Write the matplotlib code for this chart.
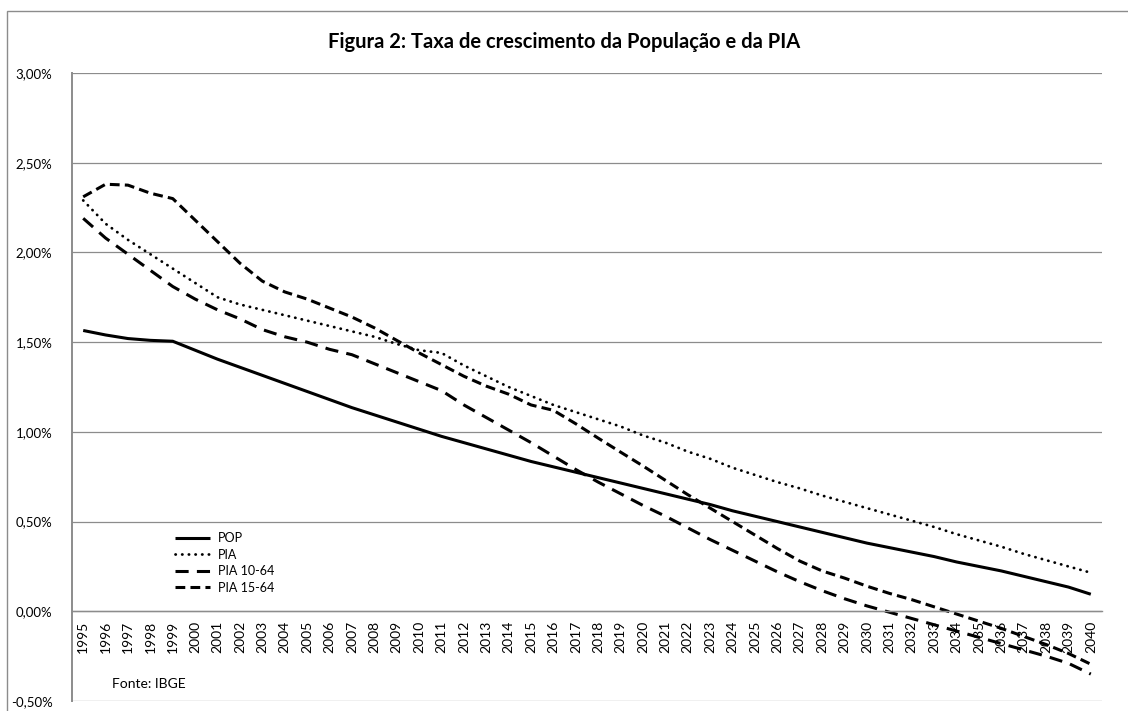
import matplotlib
matplotlib.use("Agg")
import matplotlib.pyplot as plt
from matplotlib.patches import Rectangle

plt.rcParams['font.family'] = ['Lato', 'DejaVu Sans']

# dataset (growth rates, %)
years = list(range(1995, 2041))
pop = [1.565, 1.54, 1.52, 1.51, 1.505, 1.455, 1.405, 1.36, 1.315, 1.27, 1.225,
       1.18, 1.135, 1.095, 1.055, 1.015, 0.975, 0.94, 0.905, 0.87, 0.835, 0.805,
       0.775, 0.745, 0.715, 0.685, 0.655, 0.625, 0.595, 0.56, 0.53, 0.50, 0.47,
       0.44, 0.41, 0.38, 0.355, 0.33, 0.305, 0.275, 0.25, 0.225, 0.195, 0.165,
       0.135, 0.095]
pia = [2.29, 2.16, 2.07, 1.99, 1.91, 1.83, 1.75, 1.71, 1.68, 1.65, 1.62, 1.59,
       1.56, 1.53, 1.49, 1.455, 1.44, 1.37, 1.31, 1.25, 1.20, 1.15, 1.11, 1.07,
       1.03, 0.98, 0.94, 0.89, 0.85, 0.80, 0.76, 0.72, 0.685, 0.645, 0.61, 0.575,
       0.54, 0.505, 0.47, 0.43, 0.395, 0.36, 0.32, 0.285, 0.25, 0.215]
pia_10_64 = [2.19, 2.08, 1.99, 1.90, 1.81, 1.74, 1.68, 1.63, 1.57, 1.53, 1.50,
             1.46, 1.43, 1.38, 1.33, 1.28, 1.23, 1.15, 1.08, 1.01, 0.94, 0.865,
             0.79, 0.72, 0.655, 0.59, 0.53, 0.465, 0.40, 0.34, 0.28, 0.22,
             0.165, 0.115, 0.07, 0.03, -0.005, -0.04, -0.075, -0.11, -0.145,
             -0.18, -0.215, -0.25, -0.29, -0.35]
pia_15_64 = [2.31, 2.38, 2.375, 2.33, 2.30, 2.18, 2.06, 1.94, 1.84, 1.78, 1.74,
             1.69, 1.64, 1.58, 1.51, 1.44, 1.375, 1.31, 1.255, 1.21, 1.15, 1.12,
             1.045, 0.965, 0.887, 0.81, 0.73, 0.65, 0.575, 0.50, 0.425, 0.35,
             0.28, 0.225, 0.185, 0.14, 0.10, 0.065, 0.025, -0.015, -0.055,
             -0.095, -0.14, -0.185, -0.235, -0.295]
yticks = [-0.5, 0.0, 0.5, 1.0, 1.5, 2.0, 2.5, 3.0]

grid_color = '#8c8c8c'

fig = plt.figure(figsize=(11.28, 7.11), dpi=100)
ax = fig.add_axes([72 / 1128, 10 / 711, 1030 / 1128, 628 / 711])

x = list(range(len(years)))
ax.plot(x, pop, color='black', lw=2.2, label='POP', solid_capstyle='butt')
ax.plot(x, pia, color='black', lw=2.0, linestyle=(0, (0.1, 2.3)),
        dash_capstyle='round', label='PIA')
ax.plot(x, pia_10_64, color='black', lw=2.2, linestyle=(0, (4.3, 2.7)),
        label='PIA 10-64')
ax.plot(x, pia_15_64, color='black', lw=2.2, linestyle=(0, (3.2, 1.7)),
        label='PIA 15-64')

ax.set_xlim(-0.5, len(years) - 0.5)
ax.set_ylim(-0.5, 3.0)
ax.set_axisbelow(True)

ax.set_yticks(yticks)
ax.set_yticklabels([f"{v:.2f}%".replace('.', ',') for v in yticks])
ax.set_xticks(x)
ax.set_xticklabels([str(y) for y in years])
ax.tick_params(axis='x', length=0, pad=7, labelrotation=90, labelsize=10)
ax.tick_params(axis='y', length=0, pad=14, labelsize=9.5)
for lbl in ax.get_xticklabels():
    lbl.set_verticalalignment('top')
    lbl.set_horizontalalignment('center')
ax.grid(axis='y', color=grid_color, lw=0.9)

for s in ['top', 'right']:
    ax.spines[s].set_visible(False)
ax.spines['bottom'].set_position(('data', 0))
ax.spines['bottom'].set_color(grid_color)
ax.spines['bottom'].set_linewidth(1.0)
ax.spines['left'].set_color(grid_color)
ax.spines['left'].set_linewidth(1.4)

ax.legend(loc='center left', bbox_to_anchor=(175 / 1128, 1 - 563 / 711),
          bbox_transform=fig.transFigure, frameon=False, fontsize=9,
          handlelength=2.8, handletextpad=0.6, labelspacing=0.35,
          borderpad=0, borderaxespad=0)

fig.text(0.5, 1 - 42 / 711, 'Figura 2: Taxa de crescimento da População e da PIA',
         ha='center', va='center', fontsize=14.5, fontweight='bold')
fig.text(112 / 1128, 1 - 684 / 711, 'Fonte: IBGE', ha='left', va='center',
         fontsize=10)

# outer chart border
fig.add_artist(Rectangle((7 / 1128, -1), 2, 1 + (1 - 11 / 711),
                         transform=fig.transFigure, fill=False,
                         edgecolor='#8c8c8c', lw=1.0))

fig.savefig('out.png', dpi=100)
